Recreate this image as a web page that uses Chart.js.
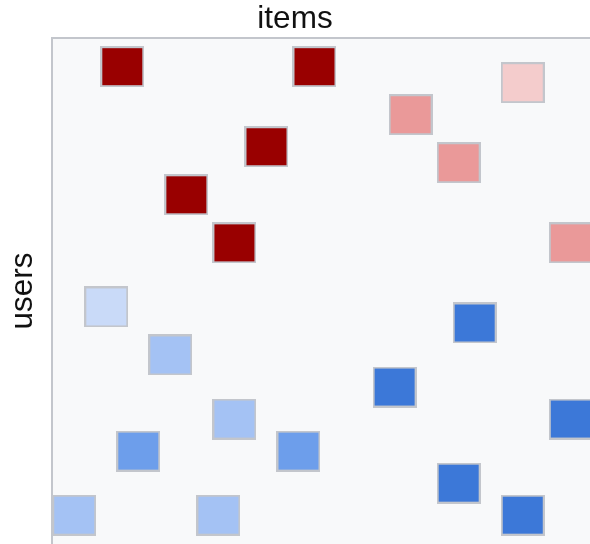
<!DOCTYPE html>
<html>
<head>
<meta charset="utf-8">
<style>
  html, body { margin: 0; padding: 0; background: #ffffff; overflow: hidden; }
  canvas { display: block; }
</style>
<script src="https://cdn.jsdelivr.net/npm/chart.js@4/dist/chart.umd.min.js"></script>
</head>
<body>
<canvas id="chart" width="590" height="544"></canvas>
<script>
// Sparse user × item rating matrix: one entry per rated cell.
const itemIdx = [3, 15, 28, 21, 12, 24, 7, 10, 31, 2, 25, 6, 20, 10, 31, 4, 14, 24, 0, 9, 28];
const userIdx = [0, 0, 1, 3, 5, 6, 8, 11, 11, 15, 16, 18, 20, 22, 22, 24, 24, 26, 28, 28, 28];
const scores  = [3, 3, 1, 2, 3, 2, 3, 3, 2, -1, -4, -2, -4, -2, -4, -3, -3, -4, -2, -2, -4];

// Diverging colour scale: blue for negative scores, red for positive ones.
const scoreLevels = [-4, -3, -2, -1, 1, 2, 3];
const levelColors = ['#3c78d8', '#6d9eeb', '#a4c2f4', '#c9daf8', '#f4cccc', '#ea9999', '#990000'];

const CELL_W = 44, CELL_H = 41;
const EDGE = '#c3c6cc';

function makeCell(fill) {
  const c = document.createElement('canvas');
  c.width = CELL_W; c.height = CELL_H;
  const g = c.getContext('2d');
  g.fillStyle = fill;
  g.fillRect(0, 0, CELL_W, CELL_H);
  g.strokeStyle = EDGE;
  g.lineWidth = 2;
  g.strokeRect(1, 1, CELL_W - 2, CELL_H - 2);
  return c;
}
const cellByScore = {};
scoreLevels.forEach((s, i) => { cellByScore[s] = makeCell(levelColors[i]); });

const points = itemIdx.map((x, i) => ({ x: x, y: userIdx[i], v: scores[i] }));

const plotBackground = {
  id: 'plotBackground',
  beforeDraw(chart) {
    const a = chart.chartArea, ctx = chart.ctx;
    ctx.save();
    ctx.fillStyle = '#f8f9fa';
    ctx.fillRect(a.left, a.top, a.right - a.left, a.bottom - a.top);
    ctx.restore();
  }
};

const FONT = { family: "'Liberation Sans', Arial, sans-serif", size: 31.5, weight: 'normal' };

new Chart(document.getElementById('chart'), {
  type: 'scatter',
  data: {
    datasets: [{
      data: points,
      clip: 0,
      pointRadius: 22,
      pointHoverRadius: 22,
      pointStyle: (ctx) => cellByScore[ctx.raw ? ctx.raw.v : 3]
    }]
  },
  options: {
    responsive: false,
    animation: false,
    events: [],
    layout: { padding: 0, autoPadding: false },
    plugins: {
      legend: { display: false },
      tooltip: { enabled: false },
      title: {
        display: true,
        text: 'items',
        color: '#111111',
        font: FONT,
        padding: { top: 0, bottom: 0 }
      }
    },
    scales: {
      x: {
        type: 'linear',
        position: 'top',
        min: -1.4,
        max: 32.2,
        ticks: { display: false },
        grid: { display: false, drawTicks: false },
        border: { display: true, color: EDGE, width: 2 }
      },
      y: {
        type: 'linear',
        reverse: true,
        min: -1.8,
        max: 29.8,
        ticks: { display: false },
        grid: { display: false, drawTicks: false },
        border: { display: true, color: EDGE, width: 2 },
        title: {
          display: true,
          text: 'users',
          color: '#111111',
          font: FONT,
          padding: { top: 4, bottom: 10 }
        }
      }
    }
  },
  plugins: [plotBackground]
});
</script>
</body>
</html>
